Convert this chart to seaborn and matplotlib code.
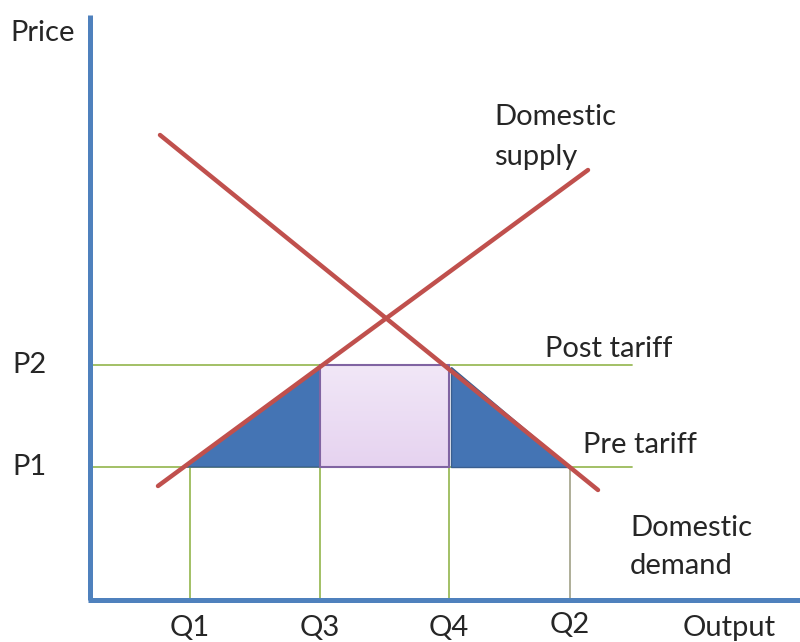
import numpy as np
import pandas as pd
import matplotlib
matplotlib.use("Agg")
import matplotlib.pyplot as plt
import seaborn as sns

# ---- data (coordinates in a quantity/price plane, origin at axis corner) ----
q_labels = ["Q1", "Q3", "Q4", "Q2"]
q_values = [100, 230, 359, 480]
p_labels = ["P1", "P2"]
p_values = [133, 235]
supply_q = [68, 498]
supply_p = [114, 430]
demand_q = [70, 508]
demand_p = [465, 110]
tariff_line_end = 542
axis_top = 585
axis_right = 710

sns.set_theme(style="white")
plt.rcParams['font.family'] = ['Lato', 'DejaVu Sans']

fig = plt.figure(figsize=(8, 6.42), dpi=100)
ax = fig.add_axes([0, 0, 1, 1])
ax.set_xlim(-90, 710)
ax.set_ylim(-42, 600)
ax.axis("off")

green = "#9BBB59"
blue_axis = "#4F81BD"
red = "#C0504D"
fill_blue = "#4474B4"

P1, P2 = p_values
Q1, Q3, Q4, Q2 = q_values

# horizontal price lines
for p in p_values:
    ax.plot([0, tariff_line_end], [p, p], color=green, lw=1.3, zorder=2)
# vertical quantity lines
for q, lab in zip(q_values, q_labels):
    col = "#A8A890" if lab == "Q2" else green
    ax.plot([q, q], [0, P1], color=col, lw=1.3, zorder=2)

def sup_q(p):
    return supply_q[0] + (p - supply_p[0]) * (supply_q[1] - supply_q[0]) / (supply_p[1] - supply_p[0])
def dem_q(p):
    return demand_q[0] + (p - demand_p[0]) * (demand_q[1] - demand_q[0]) / (demand_p[1] - demand_p[0])

# triangles (deadweight loss areas)
ax.fill([sup_q(P1), Q3, Q3], [P1, P2 - 3, P1], color=fill_blue, ec="#3A5F8F", lw=1, zorder=3)
ax.fill([Q4 + 2, Q4 + 2, dem_q(P1)], [P2 - 2, P1, P1], color=fill_blue, ec="#3A5F8F", lw=1, zorder=3)

# tariff revenue rectangle with a soft gradient
grad = np.linspace(0, 1, 100).reshape(-1, 1)
cmap = matplotlib.colors.LinearSegmentedColormap.from_list("lav", ["#E6D3F0", "#F1E7F7"])
ax.imshow(grad, extent=[Q3, Q4, P1, P2], origin="lower", cmap=cmap, aspect="auto", zorder=3)
ax.add_patch(plt.Rectangle((Q3, P1), Q4 - Q3, P2 - P1, fill=False, ec="#8064A2", lw=1.5, zorder=4))

# supply & demand lines
df = pd.DataFrame({"q": supply_q + demand_q, "p": supply_p + demand_p,
                   "curve": ["supply"] * 2 + ["demand"] * 2})
sns.lineplot(data=df, x="q", y="p", hue="curve", palette={"supply": red, "demand": red},
             lw=3.2, legend=False, ax=ax, zorder=5, sort=False)

# axes lines
ax.plot([0, 0], [0, axis_top], color=blue_axis, lw=3.6, solid_capstyle="butt", zorder=6)
ax.plot([-2, axis_right], [0, 0], color=blue_axis, lw=3.6, solid_capstyle="butt", zorder=6)

fs = 21
ax.text(-80, 567, "Price", fontsize=fs, va="center", ha="left")
ax.text(593, -28, "Output", fontsize=fs, va="center", ha="left")
for q, lab in zip(q_values, q_labels):
    dy = -25 if lab == "Q2" else -28
    ax.text(q, dy, lab, fontsize=fs, va="center", ha="center")
for p, lab in zip(p_values, p_labels):
    ax.text(-78, p, lab, fontsize=fs, va="center", ha="left")

ax.text(404, 483, "Domestic", fontsize=fs, va="center", ha="left")
ax.text(404, 443, "supply", fontsize=fs, va="center", ha="left")
ax.text(455, 251, "Post tariff", fontsize=fs, va="center", ha="left")
ax.text(493, 155, "Pre tariff", fontsize=fs, va="center", ha="left")
ax.text(540, 72, "Domestic", fontsize=fs, va="center", ha="left")
ax.text(540, 34, "demand", fontsize=fs, va="center", ha="left")

fig.savefig("out.png", dpi=100)
